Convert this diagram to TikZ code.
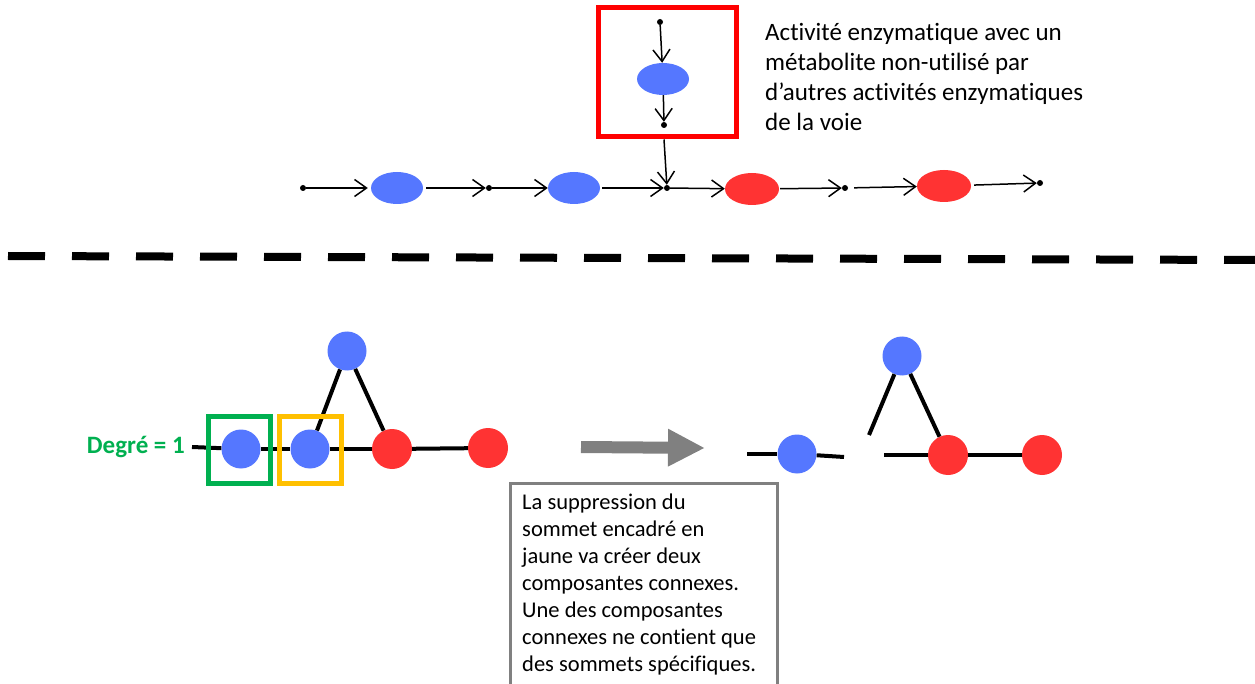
\documentclass[tikz,border=0pt]{standalone}
\usepackage{fontspec}
\setmainfont[Ligatures={NoCommon,NoContextual}]{Carlito}
\usepackage{tikz}
\definecolor{knotenblau}{HTML}{5577FF}
\definecolor{knotenrot}{HTML}{FF3333}
\definecolor{kastenrot}{HTML}{FF0000}
\definecolor{gruen}{HTML}{00B050}
\definecolor{gelb}{HTML}{FFC000}
\definecolor{grau}{HTML}{808080}
\usetikzlibrary{arrows.meta}
\usetikzlibrary{shapes.geometric}
\usetikzlibrary{positioning}

\begin{document}
\begin{tikzpicture}
    [
    x=1pt, y=-1pt, >={Straight Barb[length=12pt,width=17pt,line width=1.5pt]},
    punkt/.style={circle, fill=black, inner sep=0pt, minimum size=6pt},
    enzb/.style={ellipse, fill=knotenblau, inner sep=0pt, minimum width=52pt, minimum height=32pt},
    enzr/.style={ellipse, fill=knotenrot, inner sep=0pt, minimum width=54pt, minimum height=32pt},
    kreisb/.style={circle, fill=knotenblau, inner sep=0pt, minimum size=39pt},
    kreisr/.style={circle, fill=knotenrot, inner sep=0pt, minimum size=40pt},
    pfeil/.style={->, line width=1.5pt},
    kante/.style={line width=4pt},
    rahmen/.style={draw, inner sep=0pt, minimum width=62pt, minimum height=67pt, line width=5pt}
    %Voreinstellungen
    ]
    
    %Rand
    \useasboundingbox (0,0) rectangle (1255,684);
    
    %Reaktionskette
    \node[punkt] (p0) at (303,188) {};
    \node[enzb] (e1) at (397,188) {};
    \node[punkt] (p1) at (489,188) {};
    \node[enzb] (e2) at (574,188) {};
    \node[punkt] (p2) at (667,188) {};
    \node[enzr] (e3) at (752,189) {};
    \node[punkt] (p3) at (845,188) {};
    \node[enzr] (e4) at (944,186) {};
    \node[punkt] (p4) at (1040,183) {};
    
    \draw[pfeil, shorten >=3pt] (p0) -- (e1);
    \draw[pfeil, shorten <=3pt] (e1) -- (p1);
    \draw[pfeil] (p1) -- (e2);
    \draw[pfeil, shorten <=2pt] (e2) -- (p2);
    \draw[pfeil] (p2) -- (e3);
    \draw[pfeil, shorten <=1pt] (e3) -- (p3);
    \draw[pfeil, shorten <=6pt] (p3) -- (e4);
    \draw[pfeil, shorten <=3pt] (e4) -- (p4);
    
    %Kasten mit Nebenweg
    \node[draw=kastenrot, line width=5pt, inner sep=0pt, minimum width=138pt, minimum height=129pt] (kasten) at (667,72.5) {};
    \node[punkt] (q0) at (660,22) {};
    \node[enzb] (e0) at (663,79) {};
    \node[punkt] (q1) at (664,125) {};
    \draw[pfeil] (q0) -- (e0);
    \draw[pfeil] (e0) -- (q1);
    \draw[pfeil] (kasten.south -| q1) -- (p2);
    
    %Erklaerung oben
    \node[anchor=north west, align=left, inner sep=0pt, font=\fontsize{25}{30}\selectfont] (txtoben) at (765,23)
    {Activité enzymatique avec un\\métabolite non-utilisé par\\d’autres activités enzymatiques\\de la voie};
    
    %Trennlinie
    \draw[line width=8pt, dash pattern=on 37pt off 27pt] (8,256) -- (1255,260);
    
    %Graph links
    \node[kreisb] (a1) at (241,449) {};
    \node[kreisb] (a2) at (310,449) {};
    \node[kreisr] (a3) at (392,449) {};
    \node[kreisr] (a4) at (488,448) {};
    \node[kreisb] (a0) at (347,351) {};
    \coordinate (a5) at (192,447);
    
    \draw[kante] (a5) -- (a1);
    \draw[kante] (a1) -- (a2);
    \draw[kante] (a2) -- (a3);
    \draw[kante] (a3) -- (a4);
    \draw[kante] (a0) -- (a2);
    \draw[kante] (a0) -- (a3);
    
    \node[rahmen, draw=gruen] (rgruen) at (239,449.5) {};
    \node[rahmen, draw=gelb] (rgelb) at (310.5,449.5) {};
    \node[left=7pt of a5, inner sep=0pt, text=gruen, font=\fontsize{25}{30}\selectfont\bfseries] (grad) {Degré = 1};
    
    %grauer Pfeil
    \coordinate (pa) at (581,447);
    \coordinate (pb) at (705,448);
    \draw[-{Triangle[length=37pt,width=35pt]}, line width=12pt, grau] (pa) -- (pb);
    
    %Graph rechts
    \node[kreisb] (b1) at (797,454) {};
    \node[kreisb] (b0) at (902,356) {};
    \node[kreisr] (b3) at (948,455) {};
    \node[kreisr] (b4) at (1042,455) {};
    \coordinate (b5) at (747,454);
    \coordinate (b6) at (844,457);
    \coordinate (b7) at (869,435);
    \coordinate (b8) at (884,455);
    
    \draw[kante] (b5) -- (b1);
    \draw[kante] (b1) -- (b6);
    \draw[kante] (b0) -- (b7);
    \draw[kante] (b0) -- (b3);
    \draw[kante] (b8) -- (b3);
    \draw[kante] (b3) -- (b4);
    
    %Erklaerung unten
    \node[draw=grau, line width=3pt, anchor=north west, inner sep=0pt, minimum width=267pt, minimum height=240pt] (info) at (509,482) {};
    \node[anchor=north west, align=left, inner sep=0pt, font=\fontsize{22.5}{27}\selectfont] (infotxt) at (522,494)
    {La suppression du\\sommet encadré en\\jaune va créer deux\\composantes connexes.\\Une des composantes\\connexes ne contient que\\des sommets spécifiques.};
\end{tikzpicture}
\end{document}
